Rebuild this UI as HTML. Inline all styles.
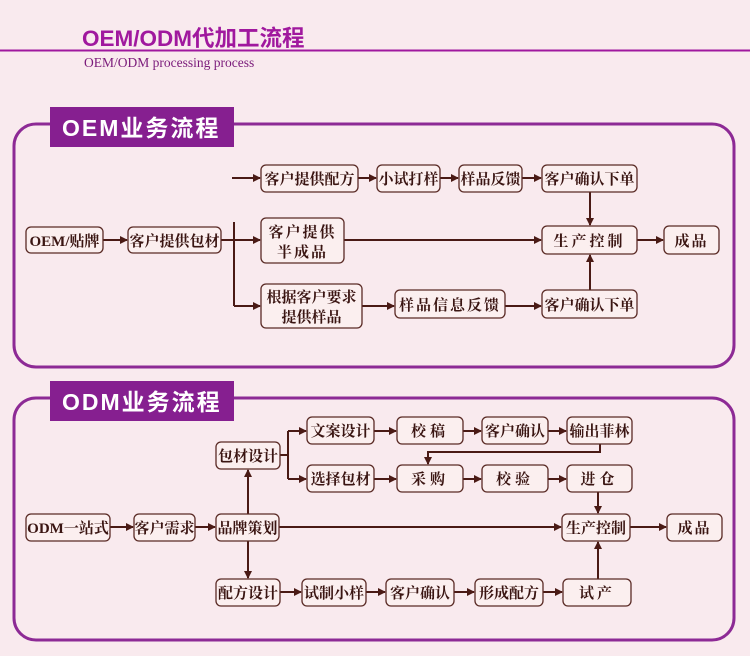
<!DOCTYPE html>
<html><head><meta charset="utf-8">
<style>
html,body{margin:0;padding:0;background:#f9eaee;}
svg{display:block;}
.b{fill:#fbefef;stroke:#5a2a25;stroke-width:1.3;}
.t{font-family:"Liberation Serif","Noto Serif CJK SC",serif;font-weight:bold;font-size:15px;fill:#3a1512;text-anchor:middle;}
.l{stroke:#4a1a15;stroke-width:2;fill:none;}
.lab{font-family:"Liberation Sans","Noto Sans CJK SC",sans-serif;font-weight:bold;font-size:23px;fill:#fff;letter-spacing:2px;}
</style></head>
<body>
<svg width="750" height="656" viewBox="0 0 750 656" xmlns="http://www.w3.org/2000/svg">
<defs>
<marker id="a" markerWidth="8" markerHeight="8" refX="7" refY="4" orient="auto" markerUnits="userSpaceOnUse">
<path d="M0,0 L8,4 L0,8 z" fill="#4a1a15"/></marker>
</defs>
<rect width="750" height="656" fill="#f9eaee"/>
<text x="82" y="46" font-family="Liberation Sans,Noto Sans CJK SC,sans-serif" font-weight="bold" font-size="22.5" fill="#a0189e">OEM/ODM代加工流程</text>
<line x1="0" y1="50.5" x2="750" y2="50.5" stroke="#a0189e" stroke-width="2"/>
<text x="84" y="67" font-family="Liberation Serif,serif" font-size="13.5" fill="#7a1a7a">OEM/ODM processing process</text>

<rect x="14" y="124" width="720" height="243" rx="22" fill="none" stroke="#8d2a95" stroke-width="3"/>
<rect x="50" y="107" width="184" height="40" fill="#861f90"/>
<text x="62" y="136" class="lab">OEM业务流程</text>

<rect x="14" y="398" width="720" height="242" rx="22" fill="none" stroke="#8d2a95" stroke-width="3"/>
<rect x="50" y="381" width="184" height="40" fill="#861f90"/>
<text x="62" y="410" class="lab">ODM业务流程</text>

<g class="l">
<line x1="103" y1="240" x2="127" y2="240" marker-end="url(#a)"/>
<line x1="221" y1="240" x2="234" y2="240"/>
<line x1="234" y1="222" x2="234" y2="306"/>
<line x1="234" y1="240" x2="260" y2="240" marker-end="url(#a)"/>
<line x1="234" y1="306" x2="260" y2="306" marker-end="url(#a)"/>
<line x1="232" y1="178" x2="260" y2="178" marker-end="url(#a)"/>
<line x1="358" y1="178" x2="376" y2="178" marker-end="url(#a)"/>
<line x1="440" y1="178" x2="458" y2="178" marker-end="url(#a)"/>
<line x1="522" y1="178" x2="541" y2="178" marker-end="url(#a)"/>
<line x1="590" y1="192" x2="590" y2="225" marker-end="url(#a)"/>
<line x1="344" y1="240" x2="541" y2="240" marker-end="url(#a)"/>
<line x1="362" y1="306" x2="394" y2="306" marker-end="url(#a)"/>
<line x1="505" y1="306" x2="541" y2="306" marker-end="url(#a)"/>
<line x1="590" y1="290" x2="590" y2="255" marker-end="url(#a)"/>
<line x1="637" y1="240" x2="663" y2="240" marker-end="url(#a)"/>
</g>

<rect class="b" x="26" y="227" width="77" height="26" rx="5"/><text class="t" x="64.5" y="246">OEM/贴牌</text>
<rect class="b" x="128" y="227" width="93" height="26" rx="5"/><text class="t" x="174.5" y="246">客户提供包材</text>
<rect class="b" x="261" y="165" width="97" height="27" rx="5"/><text class="t" x="309.5" y="184">客户提供配方</text>
<rect class="b" x="377" y="165" width="63" height="27" rx="5"/><text class="t" x="408.5" y="184">小试打样</text>
<rect class="b" x="459" y="165" width="63" height="27" rx="5"/><text class="t" x="490.5" y="184">样品反馈</text>
<rect class="b" x="542" y="165" width="95" height="27" rx="5"/><text class="t" x="589.5" y="184">客户确认下单</text>
<rect class="b" x="261" y="218" width="83" height="45" rx="5"/><text class="t" x="302.5" y="237" letter-spacing="2">客户提供</text><text class="t" x="302.5" y="257" letter-spacing="2">半成品</text>
<rect class="b" x="261" y="284" width="101" height="44" rx="5"/><text class="t" x="311.5" y="302">根据客户要求</text><text class="t" x="311.5" y="322">提供样品</text>
<rect class="b" x="395" y="290" width="110" height="28" rx="5"/><text class="t" x="450" y="310" letter-spacing="2">样品信息反馈</text>
<rect class="b" x="542" y="290" width="95" height="28" rx="5"/><text class="t" x="589.5" y="310">客户确认下单</text>
<rect class="b" x="542" y="226" width="95" height="28" rx="5"/><text class="t" x="589.5" y="246" letter-spacing="3">生产控制</text>
<rect class="b" x="664" y="226" width="55" height="28" rx="5"/><text class="t" x="691.5" y="246" letter-spacing="2">成品</text>

<g class="l">
<line x1="110" y1="527" x2="133" y2="527" marker-end="url(#a)"/>
<line x1="195" y1="527" x2="215" y2="527" marker-end="url(#a)"/>
<line x1="280" y1="455" x2="288" y2="455"/>
<line x1="288" y1="431" x2="288" y2="479"/>
<line x1="288" y1="431" x2="306" y2="431" marker-end="url(#a)"/>
<line x1="288" y1="479" x2="306" y2="479" marker-end="url(#a)"/>
<line x1="248" y1="514" x2="248" y2="470" marker-end="url(#a)"/>
<line x1="248" y1="541" x2="248" y2="578" marker-end="url(#a)"/>
<line x1="279" y1="527" x2="561" y2="527" marker-end="url(#a)"/>
<line x1="374" y1="431" x2="396" y2="431" marker-end="url(#a)"/>
<line x1="463" y1="431" x2="481" y2="431" marker-end="url(#a)"/>
<line x1="548" y1="431" x2="566" y2="431" marker-end="url(#a)"/>
<line x1="374" y1="479" x2="396" y2="479" marker-end="url(#a)"/>
<line x1="463" y1="479" x2="481" y2="479" marker-end="url(#a)"/>
<line x1="548" y1="479" x2="566" y2="479" marker-end="url(#a)"/>
<polyline points="600,444 600,452 428,452 428,464" marker-end="url(#a)"/>
<line x1="598" y1="492" x2="598" y2="513" marker-end="url(#a)"/>
<line x1="598" y1="579" x2="598" y2="542" marker-end="url(#a)"/>
<line x1="630" y1="527" x2="666" y2="527" marker-end="url(#a)"/>
<line x1="280" y1="592" x2="301" y2="592" marker-end="url(#a)"/>
<line x1="366" y1="592" x2="385" y2="592" marker-end="url(#a)"/>
<line x1="454" y1="592" x2="474" y2="592" marker-end="url(#a)"/>
<line x1="543" y1="592" x2="562" y2="592" marker-end="url(#a)"/>
</g>

<rect class="b" x="26" y="514" width="84" height="27" rx="5"/><text class="t" x="68" y="533">ODM一站式</text>
<rect class="b" x="134" y="514" width="61" height="27" rx="5"/><text class="t" x="164.5" y="533">客户需求</text>
<rect class="b" x="216" y="514" width="63" height="27" rx="5"/><text class="t" x="247.5" y="533">品牌策划</text>
<rect class="b" x="216" y="442" width="64" height="27" rx="5"/><text class="t" x="248" y="461">包材设计</text>
<rect class="b" x="307" y="417" width="67" height="27" rx="5"/><text class="t" x="340.5" y="436">文案设计</text>
<rect class="b" x="397" y="417" width="66" height="27" rx="5"/><text class="t" x="430" y="436" letter-spacing="4">校稿</text>
<rect class="b" x="482" y="417" width="66" height="27" rx="5"/><text class="t" x="515" y="436">客户确认</text>
<rect class="b" x="567" y="417" width="65" height="27" rx="5"/><text class="t" x="599.5" y="436">输出菲林</text>
<rect class="b" x="307" y="465" width="67" height="27" rx="5"/><text class="t" x="340.5" y="484">选择包材</text>
<rect class="b" x="397" y="465" width="66" height="27" rx="5"/><text class="t" x="430" y="484" letter-spacing="4">采购</text>
<rect class="b" x="482" y="465" width="66" height="27" rx="5"/><text class="t" x="515" y="484" letter-spacing="4">校验</text>
<rect class="b" x="567" y="465" width="65" height="27" rx="5"/><text class="t" x="599.5" y="484" letter-spacing="4">进仓</text>
<rect class="b" x="562" y="514" width="68" height="27" rx="5"/><text class="t" x="596" y="533">生产控制</text>
<rect class="b" x="667" y="514" width="55" height="27" rx="5"/><text class="t" x="694.5" y="533" letter-spacing="2">成品</text>
<rect class="b" x="216" y="579" width="64" height="27" rx="5"/><text class="t" x="248" y="598">配方设计</text>
<rect class="b" x="302" y="579" width="64" height="27" rx="5"/><text class="t" x="334" y="598">试制小样</text>
<rect class="b" x="386" y="579" width="68" height="27" rx="5"/><text class="t" x="420" y="598">客户确认</text>
<rect class="b" x="475" y="579" width="68" height="27" rx="5"/><text class="t" x="509" y="598">形成配方</text>
<rect class="b" x="563" y="579" width="68" height="27" rx="5"/><text class="t" x="597" y="598" letter-spacing="3">试产</text>
</svg>
</body></html>
